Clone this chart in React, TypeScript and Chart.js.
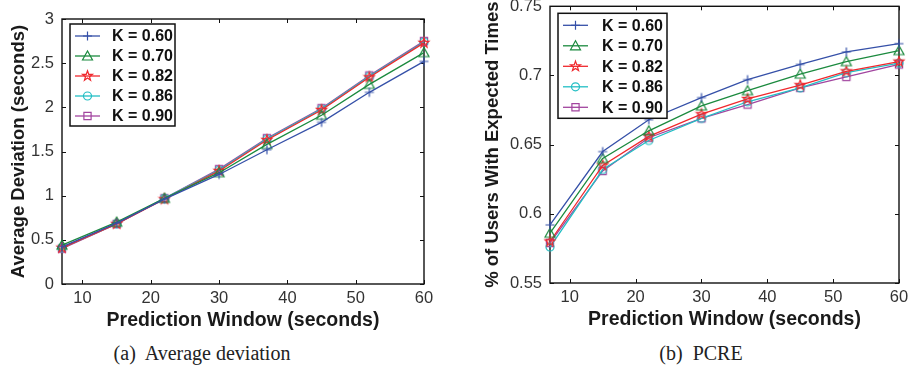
import React, { useEffect, useRef } from "react";
import { Chart, registerables } from "chart.js";

Chart.register(...registerables);

// ---------- data ----------
const windowSeconds = [7, 15, 22, 30, 37, 45, 52, 60];
const xTickValues = [10, 20, 30, 40, 50, 60];
const kLabels = ["K = 0.60", "K = 0.70", "K = 0.82", "K = 0.86", "K = 0.90"];

// (a) Average deviation (seconds)
const devK060 = [0.42, 0.69, 0.96, 1.24, 1.52, 1.83, 2.17, 2.52];
const devK070 = [0.44, 0.70, 0.97, 1.26, 1.58, 1.91, 2.26, 2.62];
const devK082 = [0.41, 0.68, 0.96, 1.28, 1.63, 1.97, 2.34, 2.73];
const devK086 = [0.41, 0.68, 0.97, 1.29, 1.64, 1.98, 2.35, 2.74];
const devK090 = [0.40, 0.68, 0.97, 1.30, 1.65, 1.99, 2.36, 2.75];
const devYTicks = [0, 0.5, 1, 1.5, 2, 2.5, 3];

// (b) PCRE
const pcreK060 = [0.592, 0.645, 0.668, 0.684, 0.697, 0.708, 0.717, 0.723];
const pcreK070 = [0.586, 0.640, 0.660, 0.678, 0.689, 0.701, 0.710, 0.718];
const pcreK082 = [0.580, 0.635, 0.656, 0.672, 0.683, 0.693, 0.703, 0.710];
const pcreK086 = [0.576, 0.632, 0.653, 0.669, 0.681, 0.691, 0.702, 0.709];
const pcreK090 = [0.579, 0.631, 0.655, 0.669, 0.679, 0.691, 0.699, 0.708];
const pcreYTicks = [0.55, 0.6, 0.65, 0.7, 0.75];

// ---------- styling ----------
const colors = ["#3550a8", "#1b8a3e", "#f0282d", "#22bec4", "#a2459f"];
const markers = ["plus", "triangle", "star", "circle", "square"];

function drawMarker(ctx: CanvasRenderingContext2D, type: string, x: number, y: number, color: string) {
  ctx.save();
  ctx.strokeStyle = color;
  ctx.lineWidth = 1.2;
  ctx.beginPath();
  if (type === "plus") {
    const r = 4.5;
    ctx.moveTo(x - r, y);
    ctx.lineTo(x + r, y);
    ctx.moveTo(x, y - r);
    ctx.lineTo(x, y + r);
  } else if (type === "triangle") {
    const r = 5;
    ctx.moveTo(x, y - r);
    ctx.lineTo(x - r, y + r * 0.8);
    ctx.lineTo(x + r, y + r * 0.8);
    ctx.closePath();
  } else if (type === "star") {
    const ro = 5.2;
    const ri = 2.1;
    for (let i = 0; i < 10; i++) {
      const a = -Math.PI / 2 + (i * Math.PI) / 5;
      const r = i % 2 === 0 ? ro : ri;
      const px = x + r * Math.cos(a);
      const py = y + r * Math.sin(a);
      if (i === 0) ctx.moveTo(px, py);
      else ctx.lineTo(px, py);
    }
    ctx.closePath();
  } else if (type === "circle") {
    ctx.arc(x, y, 4, 0, Math.PI * 2);
  } else if (type === "square") {
    const h = 3.6;
    ctx.rect(x - h, y - h, 2 * h, 2 * h);
  }
  ctx.stroke();
  ctx.restore();
}

function markerImage(type: string, color: string): HTMLCanvasElement {
  const c = document.createElement("canvas");
  c.width = 14;
  c.height = 14;
  const ctx = c.getContext("2d")!;
  drawMarker(ctx, type, 7, 7, color);
  return c;
}

const frameLegendPlugin = {
  id: "frameLegend",
  beforeDatasetsDraw(chart: any) {
    const { ctx, chartArea: ca } = chart;
    const xs = chart.scales.x;
    const ys = chart.scales.y;
    ctx.save();
    ctx.strokeStyle = "#111";
    ctx.lineWidth = 1.4;
    ctx.strokeRect(ca.left, ca.top, ca.right - ca.left, ca.bottom - ca.top);
    ctx.lineWidth = 1;
    const tl = 4;
    ctx.beginPath();
    xs.ticks.forEach((t: any) => {
      const px = Math.round(xs.getPixelForValue(t.value)) + 0.5;
      ctx.moveTo(px, ca.bottom);
      ctx.lineTo(px, ca.bottom - tl);
      ctx.moveTo(px, ca.top);
      ctx.lineTo(px, ca.top + tl);
    });
    ys.ticks.forEach((t: any) => {
      const py = Math.round(ys.getPixelForValue(t.value)) + 0.5;
      ctx.moveTo(ca.left, py);
      ctx.lineTo(ca.left + tl, py);
      ctx.moveTo(ca.right, py);
      ctx.lineTo(ca.right - tl, py);
    });
    ctx.stroke();
    ctx.restore();
  },
  afterDatasetsDraw(chart: any, _args: any, opts: any) {
    const { ctx, chartArea: ca } = chart;
    const bx = ca.left + opts.dx;
    const by = ca.top + opts.dy;
    ctx.save();
    ctx.fillStyle = "#fff";
    ctx.fillRect(bx, by, opts.w, opts.h);
    ctx.strokeStyle = "#111";
    ctx.lineWidth = 1.5;
    ctx.strokeRect(bx, by, opts.w, opts.h);
    ctx.font = "bold 16px 'Liberation Sans', Arial, sans-serif";
    ctx.textBaseline = "middle";
    ctx.textAlign = "left";
    chart.data.datasets.forEach((ds: any, i: number) => {
      const y = by + 12 + i * opts.step;
      ctx.strokeStyle = colors[i];
      ctx.lineWidth = 1.3;
      ctx.beginPath();
      ctx.moveTo(bx + 5, y);
      ctx.lineTo(bx + 30, y);
      ctx.stroke();
      drawMarker(ctx, markers[i], bx + 17.5, y, colors[i]);
      ctx.fillStyle = "#111";
      ctx.fillText(ds.label, bx + opts.textX, y + 1);
    });
    ctx.restore();
  },
};

type PanelProps = {
  width: number;
  height: number;
  series: number[][];
  yMin: number;
  yMax: number;
  yTicks: number[];
  yTitle: string;
  padLeft: number;
  padTop: number;
  padRight: number;
  yWidth: number;
  xHeight: number;
  legend: { dx: number; dy: number; w: number; h: number; step: number; textX: number };
};

function Panel(p: PanelProps) {
  const ref = useRef<HTMLCanvasElement | null>(null);
  useEffect(() => {
    if (!ref.current) return;
    const chart = new Chart(ref.current, {
      type: "line",
      data: {
        datasets: p.series.map((vals, i) => ({
          label: kLabels[i],
          data: windowSeconds.map((x, j) => ({ x, y: vals[j] })),
          borderColor: colors[i],
          backgroundColor: colors[i],
          borderWidth: 1.3,
          pointStyle: markerImage(markers[i], colors[i]) as any,
          pointRadius: 5,
          pointHoverRadius: 5,
          tension: 0,
          clip: false as any,
        })),
      },
      options: {
        animation: false,
        responsive: false,
        devicePixelRatio: 1,
        layout: { padding: { left: p.padLeft, top: p.padTop, right: p.padRight, bottom: 0 } },
        plugins: {
          legend: { display: false },
          tooltip: { enabled: false },
          frameLegend: p.legend,
        } as any,
        scales: {
          x: {
            type: "linear",
            min: 7,
            max: 60,
            grid: { display: false, drawTicks: false },
            border: { display: false },
            afterBuildTicks: (s: any) => {
              s.ticks = xTickValues.map((v) => ({ value: v }));
            },
            afterFit: (s: any) => {
              s.height = p.xHeight;
              s.paddingLeft = 0;
              s.paddingRight = 0;
            },
            ticks: {
              padding: 5,
              color: "#333",
              font: { family: "'Liberation Sans', Arial, sans-serif", size: 16.5 },
              maxRotation: 0,
              callback: (v: any) => String(v),
            },
            title: {
              display: true,
              text: "Prediction Window (seconds)",
              color: "#1a1a1a",
              padding: 0,
              font: { family: "'Liberation Sans', Arial, sans-serif", size: 19.5, weight: "bold" },
            },
          },
          y: {
            type: "linear",
            min: p.yMin,
            max: p.yMax,
            grid: { display: false, drawTicks: false },
            border: { display: false },
            afterBuildTicks: (s: any) => {
              s.ticks = p.yTicks.map((v) => ({ value: v }));
            },
            afterFit: (s: any) => {
              s.width = p.yWidth;
              s.paddingTop = 0;
              s.paddingBottom = 0;
            },
            ticks: {
              padding: 8,
              color: "#333",
              font: { family: "'Liberation Sans', Arial, sans-serif", size: 16.5 },
              callback: (v: any) => String(+Number(v).toFixed(2)),
            },
            title: {
              display: true,
              text: p.yTitle,
              color: "#1a1a1a",
              padding: 0,
              font: { family: "'Liberation Sans', Arial, sans-serif", size: 18.5, weight: "bold" },
            },
          },
        },
      },
      plugins: [frameLegendPlugin as any],
    });
    return () => chart.destroy();
  }, []);
  return <canvas ref={ref} width={p.width} height={p.height} style={{ display: "block" }} />;
}

const captionStyle: React.CSSProperties = {
  position: "absolute",
  top: 341,
  fontFamily: "'Liberation Serif', 'Times New Roman', serif",
  fontSize: 20,
  color: "#222",
  whiteSpace: "pre",
  transform: "translateX(-50%)",
  lineHeight: "24px",
};

export default function App() {
  return (
    <div style={{ position: "absolute", left: 0, top: 0, width: 910, height: 368, background: "#fff" }}>
      <div style={{ position: "absolute", left: 0, top: 0 }}>
        <Panel
          width={440}
          height={332}
          series={[devK060, devK070, devK082, devK086, devK090]}
          yMin={0}
          yMax={3}
          yTicks={devYTicks}
          yTitle="Average Deviation (seconds)"
          padLeft={8}
          padTop={19}
          padRight={16}
          yWidth={54}
          xHeight={48}
          legend={{ dx: 8, dy: 5, w: 105, h: 102, step: 20, textX: 42 }}
        />
      </div>
      <div style={{ position: "absolute", left: 440, top: 0 }}>
        <Panel
          width={470}
          height={331}
          series={[pcreK060, pcreK070, pcreK082, pcreK086, pcreK090]}
          yMin={0.55}
          yMax={0.75}
          yTicks={pcreYTicks}
          yTitle="% of Users With Expected Times"
          padLeft={42}
          padTop={6}
          padRight={11}
          yWidth={68}
          xHeight={48}
          legend={{ dx: 8, dy: 7, w: 109, h: 105, step: 20.5, textX: 44 }}
        />
      </div>
      <div style={{ ...captionStyle, left: 202 }}>{"(a)  Average deviation"}</div>
      <div style={{ ...captionStyle, left: 701 }}>{"(b)  PCRE"}</div>
    </div>
  );
}
